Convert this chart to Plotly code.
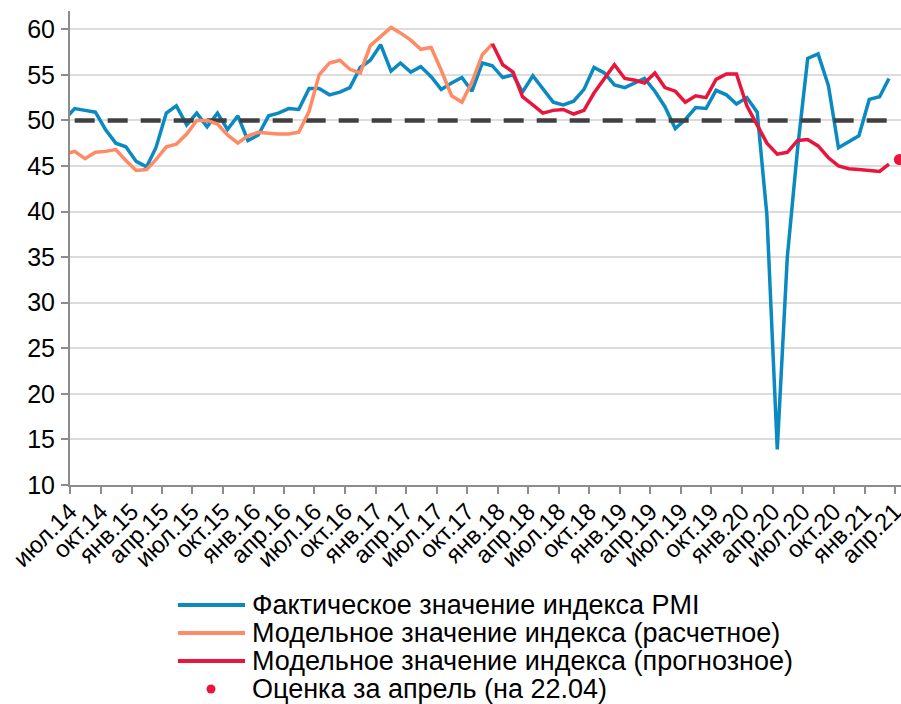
import pandas as pd
import plotly.graph_objects as go

# ---- data (monthly, first value = Jun 2014, partly hidden left of the axis) ----
pmi_actual = [50.1, 51.3, 51.1, 50.9, 49.0, 47.5, 47.1, 45.5, 44.9, 47.0, 50.8, 51.6,
              49.5, 50.8, 49.3, 50.8, 49.0, 50.5, 47.8, 48.4, 50.5, 50.8, 51.3, 51.2,
              53.5, 53.5, 52.8, 53.1, 53.6, 55.8, 56.6, 58.3, 55.4, 56.3, 55.3, 55.9,
              54.8, 53.4, 54.1, 54.7, 53.2, 56.3, 56.0, 54.7, 55.0, 53.1, 54.9, 53.4,
              52.0, 51.7, 52.1, 53.4, 55.8, 55.2, 53.9, 53.6, 54.1, 54.6, 53.2, 51.5,
              49.1, 50.1, 51.4, 51.3, 53.3, 52.8, 51.8, 52.5, 50.9, 39.6, 13.9, 35.0,
              47.0, 56.8, 57.3, 53.8, 47.0, 47.7, 48.3, 52.3, 52.6, 54.6]
actual_start = (2014, 6)

model_fit = [46.3, 46.6, 45.8, 46.5, 46.6, 46.8, 45.6, 44.5, 44.6, 45.7, 47.1, 47.4,
             48.5, 50.0, 50.0, 49.6, 48.4, 47.5, 48.3, 48.7, 48.6, 48.5, 48.5, 48.7,
             51.0, 55.0, 56.3, 56.6, 55.6, 55.2, 58.2, 59.2, 60.2, 59.6, 58.8, 57.8,
             58.0, 55.5, 52.7, 52.0, 54.2, 57.2, 58.4]
fit_start = (2014, 6)

model_forecast = [58.4, 56.1, 55.3, 52.6, 51.7, 50.8, 51.1, 51.2, 50.7, 51.1, 53.0, 54.6,
                  56.1, 54.6, 54.4, 54.1, 55.2, 53.6, 53.2, 52.0, 52.7, 52.5, 54.5, 55.1,
                  55.1, 51.6, 49.5, 47.5, 46.3, 46.5, 47.8, 47.9, 47.2, 45.9, 45.0, 44.7,
                  44.6, 44.5, 44.4, 45.2]
forecast_start = (2017, 12)

april_estimate = [45.7]
estimate_start = (2021, 4)

threshold = 50
threshold_span = ((2014, 7), (2021, 4))

tick_labels = ["июл.14", "окт.14", "янв.15", "апр.15", "июл.15", "окт.15", "янв.16",
               "апр.16", "июл.16", "окт.16", "янв.17", "апр.17", "июл.17", "окт.17",
               "янв.18", "апр.18", "июл.18", "окт.18", "янв.19", "апр.19", "июл.19",
               "окт.19", "янв.20", "апр.20", "июл.20", "окт.20", "янв.21", "апр.21"]

series_names = ["Фактическое значение индекса PMI",
                "Модельное значение индекса (расчетное)",
                "Модельное значение индекса (прогнозное)",
                "Оценка за апрель (на 22.04)"]

# ---- helpers ----
def month_dates(start, n):
    y, m = start
    out = []
    for _ in range(n):
        out.append("%04d-%02d-15" % (y, m))
        m += 1
        if m > 12:
            m = 1
            y += 1
    return out

BLUE = "#0a8ac0"
ORANGE = "#ff8a66"
RED = "#e8163c"
DASH = "#404040"
FONT = "Liberation Sans, Arial, sans-serif"

fig = go.Figure()

fig.add_trace(go.Scatter(x=month_dates(actual_start, len(pmi_actual)), y=pmi_actual,
                         mode="lines", line=dict(color=BLUE, width=3.5),
                         name=series_names[0], showlegend=False))

n_thr = (threshold_span[1][0] - threshold_span[0][0]) * 12 + threshold_span[1][1] - threshold_span[0][1] + 1
fig.add_trace(go.Scatter(x=month_dates(threshold_span[0], n_thr), y=[threshold] * n_thr,
                         mode="lines", line=dict(color=DASH, width=4.5, dash="20px,13px"),
                         showlegend=False, hoverinfo="skip"))

fig.add_trace(go.Scatter(x=month_dates(fit_start, len(model_fit)), y=model_fit,
                         mode="lines", line=dict(color=ORANGE, width=3.5),
                         name=series_names[1], showlegend=False))

fig.add_trace(go.Scatter(x=month_dates(forecast_start, len(model_forecast)), y=model_forecast,
                         mode="lines", line=dict(color=RED, width=3.5),
                         name=series_names[2], showlegend=False))

fig.add_trace(go.Scatter(x=month_dates(estimate_start, len(april_estimate)), y=april_estimate,
                         mode="markers", marker=dict(color=RED, size=11, line=dict(width=0)),
                         name=series_names[3], showlegend=False))

# ---- layout geometry (body margin removed by the post script, figure at page origin) ----
OFF = 0
W, H = 901 - OFF, 704 - OFF
PLOT_L, PLOT_R, PLOT_T, PLOT_B = 70, 901, 11, 485      # wanted plot box, page pixels
L, R, T, B = PLOT_L - OFF, 901 - PLOT_R, PLOT_T - OFF, 704 - PLOT_B
pw, ph = W - L - R, H - T - B

tickvals = pd.date_range("2014-07-01", periods=len(tick_labels), freq="3MS").strftime("%Y-%m-%d")

fig.update_layout(
    width=W, height=H,
    margin=dict(l=L, r=R, t=T, b=B, autoexpand=False),
    paper_bgcolor="white", plot_bgcolor="white",
    font=dict(family=FONT, color="#000000"),
    showlegend=False,
    xaxis=dict(type="date", range=["2014-07-01", "2021-04-20"], automargin=False,
               tickvals=list(tickvals), ticktext=tick_labels, tickangle=-45,
               ticklabeloverflow="allow", ticklabelstandoff=-6,
               tickfont=dict(size=24, family=FONT, color="#000000"),
               showgrid=False, showline=True, linecolor="#8c8c8c", linewidth=2,
               ticks="outside", ticklen=7, tickwidth=1.5, tickcolor="#8c8c8c",
               zeroline=False),
    yaxis=dict(range=[10, 62], tickvals=[10, 15, 20, 25, 30, 35, 40, 45, 50, 55, 60],
               automargin=False, ticklabelstandoff=1,
               tickfont=dict(size=25, family=FONT, color="#000000"),
               showgrid=True, gridcolor="#dcdcdc", gridwidth=2,
               showline=True, linecolor="#8c8c8c", linewidth=2,
               ticks="outside", ticklen=7, tickwidth=1.5, tickcolor="#8c8c8c",
               zeroline=False),
)

# ---- manual legend (long line samples like the original); page-pixel positions ----
def px_to_paper(x, y):
    x, y = x - OFF, y - OFF
    return (x - L) / pw, (H - B - y) / ph

legend_rows = [605, 633, 661, 689]
legend_styles = [("line", BLUE), ("line", ORANGE), ("line", RED), ("dot", RED)]
shapes = []
annotations = []
for name, yrow, (kind, col) in zip(series_names, legend_rows, legend_styles):
    if kind == "line":
        x0, y0 = px_to_paper(178, yrow)
        x1, _ = px_to_paper(245, yrow)
        shapes.append(dict(type="line", xref="paper", yref="paper", x0=x0, x1=x1, y0=y0, y1=y0,
                           line=dict(color=col, width=4)))
    else:
        cx, cy = px_to_paper(211, yrow)
        rx = 4.5 / pw
        ry = 4.5 / ph
        shapes.append(dict(type="circle", xref="paper", yref="paper",
                           x0=cx - rx, x1=cx + rx, y0=cy - ry, y1=cy + ry,
                           fillcolor=col, line=dict(color=col, width=0)))
    tx, ty = px_to_paper(250, yrow)
    annotations.append(dict(text=name, xref="paper", yref="paper", x=tx, y=ty,
                            xanchor="left", yanchor="middle", showarrow=False,
                            font=dict(size=27, family=FONT, color="#000000")))

fig.update_layout(shapes=shapes, annotations=annotations)

fig.write_html("out.html",
               config={"displayModeBar": False},
               post_script="document.body.style.margin='0';document.body.style.overflow='hidden';")
